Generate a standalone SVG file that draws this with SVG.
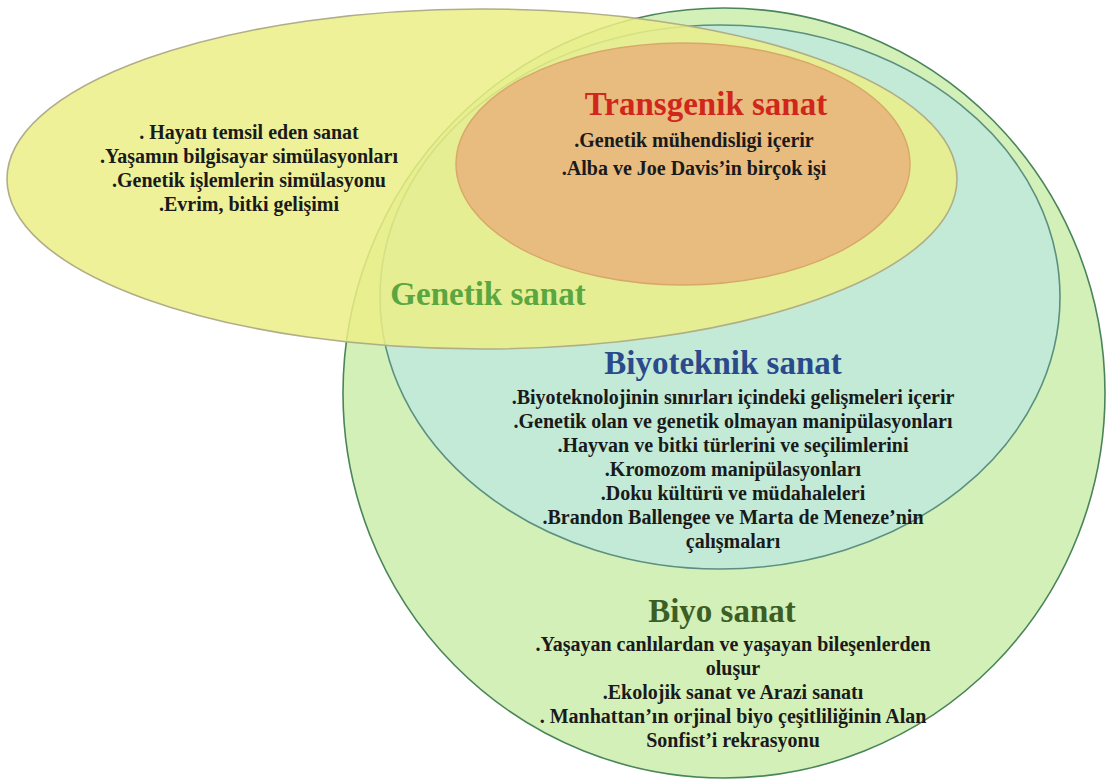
<svg xmlns="http://www.w3.org/2000/svg" width="1107" height="781" viewBox="0 0 1107 781">
  <style>
    .hdr { font-family: "Liberation Serif", "Times New Roman", serif; font-weight: bold; font-size: 33px; text-anchor: middle; }
    .body { font-family: "Liberation Serif", "Times New Roman", serif; font-weight: bold; font-size: 20px; text-anchor: middle; fill: #1a1a1a; }
    .e-biyo { fill: #d4f0b9; stroke: #4a855a; stroke-width: 1.6; }
    .e-tek { fill: #c3ead6; stroke: #5b9080; stroke-width: 1.6; }
    .e-gen { fill: #ebee86; fill-opacity: 0.85; stroke: #b0ae88; stroke-width: 1.6; }
    .e-trans { fill: #e8bc7f; stroke: #d8a868; stroke-width: 1.4; }
  </style>
  <rect width="1107" height="781" fill="#ffffff"/>

  <g id="node-biyo-sanat">
    <ellipse class="e-biyo" cx="724" cy="393" rx="381" ry="385"/>
    <text class="hdr" x="722" y="622" fill="#3c5e24" font-size="35">Biyo sanat</text>
    <text class="body" x="733" y="651">.Yaşayan canlılardan ve yaşayan bileşenlerden</text>
    <text class="body" x="733" y="675">oluşur</text>
    <text class="body" x="733" y="699">.Ekolojik sanat ve Arazi sanatı</text>
    <text class="body" x="733" y="723">. Manhattan’ın orjinal biyo çeşitliliğinin Alan</text>
    <text class="body" x="733" y="747">Sonfist’i rekrasyonu</text>
  </g>

  <g id="node-biyoteknik-sanat">
    <ellipse class="e-tek" cx="720" cy="297" rx="340" ry="272"/>
    <text class="hdr" x="723" y="374" fill="#2b4a8c">Biyoteknik sanat</text>
    <text class="body" x="733" y="404">.Biyoteknolojinin sınırları içindeki gelişmeleri içerir</text>
    <text class="body" x="733" y="428">.Genetik olan ve genetik olmayan manipülasyonları</text>
    <text class="body" x="733" y="452">.Hayvan ve bitki türlerini ve seçilimlerini</text>
    <text class="body" x="733" y="476">.Kromozom manipülasyonları</text>
    <text class="body" x="733" y="500">.Doku kültürü ve müdahaleleri</text>
    <text class="body" x="733" y="524">.Brandon Ballengee ve Marta de Meneze’nin</text>
    <text class="body" x="733" y="548">çalışmaları</text>
  </g>

  <g id="node-genetik-sanat">
    <ellipse class="e-gen" cx="482" cy="179" rx="475" ry="170"/>
    <text class="hdr" x="488" y="305" fill="#5aa640">Genetik sanat</text>
    <text class="body" x="249" y="139">. Hayatı temsil eden sanat</text>
    <text class="body" x="249" y="163">.Yaşamın bilgisayar simülasyonları</text>
    <text class="body" x="249" y="187">.Genetik işlemlerin simülasyonu</text>
    <text class="body" x="249" y="211">.Evrim, bitki gelişimi</text>
  </g>

  <g id="node-transgenik-sanat">
    <ellipse class="e-trans" cx="683" cy="164" rx="227" ry="121"/>
    <text class="hdr" x="706" y="115" fill="#d1261c">Transgenik sanat</text>
    <text class="body" x="694" y="147">.Genetik mühendisligi içerir</text>
    <text class="body" x="694" y="175">.Alba ve Joe Davis’in birçok işi</text>
  </g>
</svg>
